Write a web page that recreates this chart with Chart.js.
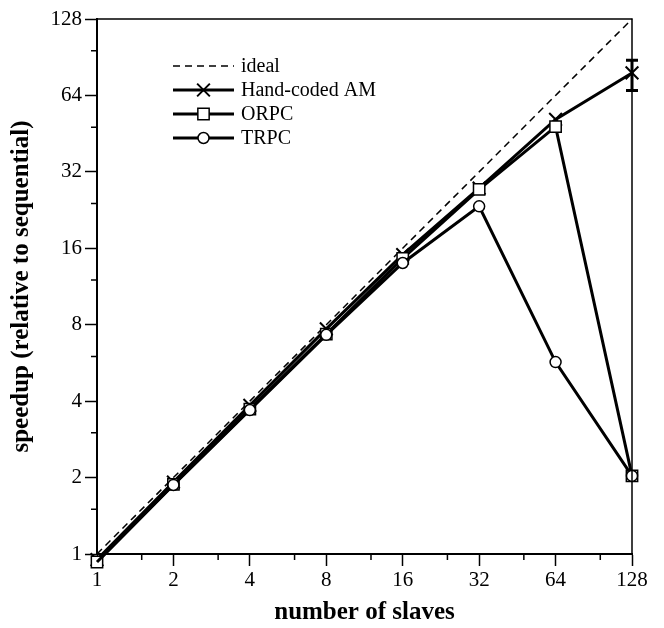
<!DOCTYPE html>
<html>
<head>
<meta charset="utf-8">
<script src="https://cdn.jsdelivr.net/npm/chart.js@4.4.1/dist/chart.umd.min.js"></script>
<style>
  html, body { margin: 0; padding: 0; background: #fff; }
  #c { display: block; }
</style>
</head>
<body>
<canvas id="c" width="664" height="628"></canvas>
<script>
// ---- data ----
const slaves     = [1, 2, 4, 8, 16, 32, 64, 128];
const idealVals  = [1, 2, 4, 8, 16, 32, 64, 128];
const handCoded  = [0.95, 1.92, 3.85, 7.7, 15.1, 27.6, 51.5, 78.5];
const orpc       = [0.93, 1.88, 3.72, 7.35, 14.6, 27.3, 48.2, 2.03];
const trpc       = [0.93, 1.87, 3.69, 7.3, 14.0, 23.4, 5.7, 2.03];
const errX       = [128];
const errLow     = [67];
const errHigh    = [88];
const majorTicks = [1, 2, 4, 8, 16, 32, 64, 128];
const minorTicks = [1.5, 3, 6, 12, 24, 48, 96];
const seriesNames = ['ideal', 'Hand-coded AM', 'ORPC', 'TRPC'];

const FONT = 'Liberation Serif';
const pts = (ys) => slaves.map((x, i) => ({ x: x, y: ys[i] }));

const minorTickPlugin = {
  id: 'minorTicks',
  afterDraw(chart) {
    const { ctx, scales: { x, y }, chartArea: a } = chart;
    ctx.save();
    ctx.strokeStyle = '#000';
    ctx.lineWidth = 1.5;
    ctx.beginPath();
    minorTicks.forEach(v => {
      const px = x.getPixelForValue(v);
      ctx.moveTo(px, a.bottom); ctx.lineTo(px, a.bottom + 6);
      const py = y.getPixelForValue(v);
      ctx.moveTo(a.left, py); ctx.lineTo(a.left - 6, py);
    });
    ctx.stroke();
    ctx.lineWidth = 1.5;
    ctx.beginPath();
    ctx.moveTo(a.left, a.top); ctx.lineTo(a.right, a.top); ctx.lineTo(a.right, a.bottom);
    ctx.stroke();
    ctx.restore();
  }
};

const errorBarPlugin = {
  id: 'errorBars',
  afterDatasetsDraw(chart) {
    const { ctx, scales: { x, y } } = chart;
    ctx.save();
    ctx.strokeStyle = '#000';
    ctx.lineWidth = 3;
    errX.forEach((xv, i) => {
      const px = x.getPixelForValue(xv);
      const pl = y.getPixelForValue(errLow[i]);
      const ph = y.getPixelForValue(errHigh[i]);
      ctx.beginPath();
      ctx.moveTo(px, pl); ctx.lineTo(px, ph);
      ctx.moveTo(px - 6, pl); ctx.lineTo(px + 6, pl);
      ctx.moveTo(px - 6, ph); ctx.lineTo(px + 6, ph);
      ctx.stroke();
    });
    ctx.restore();
  }
};

const legendPlugin = {
  id: 'customLegend',
  afterDraw(chart) {
    const { ctx } = chart;
    const x0 = 173, x1 = 234, tx = 241;
    const rows = [66, 90, 114, 138];
    const order = ['ideal', 'Hand-coded AM', 'ORPC', 'TRPC'];
    ctx.save();
    order.forEach((name, i) => {
      const ds = chart.data.datasets.find(d => d.label === name);
      const yy = rows[i];
      ctx.strokeStyle = '#000';
      ctx.lineWidth = ds.borderWidth;
      ctx.setLineDash(ds.borderDash || []);
      ctx.beginPath();
      ctx.moveTo(x0, yy); ctx.lineTo(x1, yy);
      ctx.stroke();
      ctx.setLineDash([]);
      if (ds.pointRadius > 0) {
        ctx.fillStyle = ds.pointBackgroundColor;
        ctx.strokeStyle = ds.pointBorderColor;
        ctx.lineWidth = ds.pointBorderWidth;
        Chart.helpers.drawPoint(ctx, { pointStyle: ds.pointStyle, radius: ds.pointRadius, rotation: 0, borderWidth: ds.pointBorderWidth }, (x0 + x1) / 2, yy);
      }
      ctx.fillStyle = '#000';
      ctx.font = '20px "' + FONT + '"';
      ctx.textBaseline = 'middle';
      ctx.textAlign = 'left';
      ctx.fillText(ds.label, tx, yy + 1);
    });
    ctx.restore();
  }
};

new Chart(document.getElementById('c'), {
  type: 'line',
  data: {
    datasets: [
      { label: seriesNames[0], data: pts(idealVals), borderColor: '#000', borderWidth: 1.5, borderDash: [7, 5],
        pointRadius: 0, pointBackgroundColor: '#fff', pointBorderColor: '#000', pointBorderWidth: 0,
        order: 3, clip: false, tension: 0 },
      { label: seriesNames[1], data: pts(handCoded), borderColor: '#000', borderWidth: 3,
        pointStyle: 'crossRot', pointRadius: 9, pointBackgroundColor: '#fff', pointBorderColor: '#000', pointBorderWidth: 2,
        order: 2, clip: false, tension: 0 },
      { label: seriesNames[2], data: pts(orpc), borderColor: '#000', borderWidth: 3,
        pointStyle: 'rect', pointRadius: 8, pointBackgroundColor: '#fff', pointBorderColor: '#000', pointBorderWidth: 1.5,
        order: 1, clip: false, tension: 0 },
      { label: seriesNames[3], data: pts(trpc), borderColor: '#000', borderWidth: 3,
        pointStyle: 'circle', pointRadius: 5.5, pointBackgroundColor: '#fff', pointBorderColor: '#000', pointBorderWidth: 1.5,
        order: 0, clip: false, tension: 0 }
    ]
  },
  options: {
    responsive: false,
    animation: false,
    events: [],
    layout: { padding: { left: 0, right: 32, top: 19, bottom: 0 } },
    plugins: { legend: { display: false }, tooltip: { enabled: false } },
    scales: {
      x: {
        type: 'logarithmic', min: 1, max: 128,
        afterBuildTicks: s => { s.ticks = majorTicks.map(v => ({ value: v })); },
        afterFit: s => { s.height = 74; },
        grid: { drawOnChartArea: false, drawTicks: true, tickLength: 12, tickWidth: 1.5, tickColor: '#000' },
        border: { display: true, color: '#000', width: 2 },
        ticks: { color: '#000', padding: 2, maxRotation: 0, autoSkip: false,
                 font: { family: FONT, size: 21 }, callback: v => String(v) },
        title: { display: true, text: 'number of slaves', color: '#000',
                 font: { family: FONT, size: 25, weight: 'bold', lineHeight: 1.2 }, padding: { top: 0, bottom: 0 } }
      },
      y: {
        type: 'logarithmic', min: 1, max: 128,
        afterBuildTicks: s => { s.ticks = majorTicks.map(v => ({ value: v })); },
        afterFit: s => { s.width = 97; },
        grid: { drawOnChartArea: false, drawTicks: true, tickLength: 12, tickWidth: 1.5, tickColor: '#000' },
        border: { display: true, color: '#000', width: 2 },
        ticks: { color: '#000', padding: 3, autoSkip: false,
                 font: { family: FONT, size: 21 }, callback: v => String(v) },
        title: { display: true, text: 'speedup (relative to sequential)', color: '#000',
                 font: { family: FONT, size: 25, weight: 'bold', lineHeight: 1.2 }, padding: { top: 7, bottom: 0 } }
      }
    }
  },
  plugins: [minorTickPlugin, errorBarPlugin, legendPlugin]
});
</script>
</body>
</html>
